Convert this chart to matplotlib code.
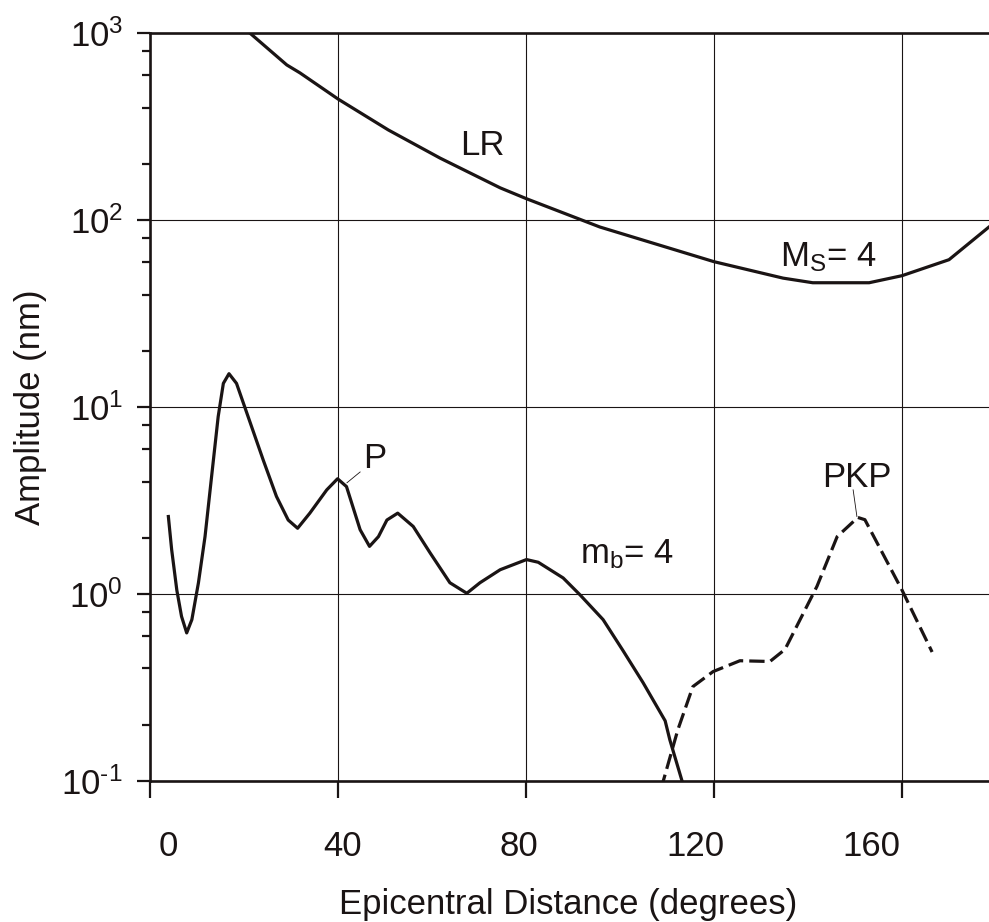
"""
Amplitude vs epicentral distance for an Ms = 4 / mb = 4 event:
LR surface wave, P and PKP body waves on a log amplitude scale.
"""

import matplotlib
matplotlib.use("Agg")
import matplotlib.pyplot as plt
import matplotlib.transforms as mtransforms
from matplotlib.ticker import FixedLocator, NullFormatter

# LR (surface wave), Ms = 4
lr_dist = [21.3, 29.1, 31.9, 40, 50.7, 61.7, 74.5, 80.2, 95.7, 120, 134.7, 141, 153, 160, 170, 178.5, 180]
lr_amp = [1000, 677, 614, 445, 304, 215, 149, 130, 92, 60, 49, 46.3, 46.3, 50.5, 61.5, 92, 98]

# P wave, mb = 4
p_dist = [3.9, 4.6, 5.7, 6.7, 7.8, 8.9, 10.3, 11.7, 13.1, 14.5, 15.6, 16.8, 18.4, 20.6, 24.1,
          26.9, 29.4, 31.4, 34.0, 37.6, 39.9, 41.8, 44.7, 46.7, 48.6, 50.4, 52.7, 56.0, 59.6,
          63.8, 67.4, 70.2, 74.5, 80.1, 82.6, 87.9, 91.5, 96.4, 100.6, 104.9, 109.6, 110.6,
          113.2, 113.8]
p_amp = [2.6, 1.73, 1.05, 0.76, 0.62, 0.73, 1.15, 2.03, 4.26, 8.9, 13.4, 15.1, 13.4, 9.3, 5.2,
         3.33, 2.49, 2.25, 2.71, 3.61, 4.14, 3.76, 2.21, 1.8, 2.03, 2.49, 2.71, 2.30, 1.66,
         1.15, 1.01, 1.15, 1.35, 1.53, 1.48, 1.22, 0.99, 0.73, 0.50, 0.336, 0.21, 0.166,
         0.1, 0.09]

# PKP (core phase)
pkp_dist = [108.8, 109.2, 112.3, 115.5, 119.8, 125.5, 131.9, 135.1, 141.9, 146.2, 150.6, 152.1, 160, 166.4]
pkp_amp = [0.09, 0.1, 0.188, 0.32, 0.385, 0.44, 0.436, 0.506, 1.1, 2.03, 2.57, 2.5, 1.05, 0.49]

x_ticks = [0, 40, 80, 120, 160]
x_tick_labels = ["0", "40", "80", "120", "160"]
y_ticks = [0.1, 1, 10, 100, 1000]
y_tick_labels = [r"$10^{\text{-}1}$", r"$10^{0}$", r"$10^{1}$", r"$10^{2}$", r"$10^{3}$"]
y_minor_mult = [2, 4, 6, 8]
# the printed tick numbers drift left of their ticks in the original (pixels)
x_label_shift_px = [18, 5, -7, -19, -31]

FS = 25
INK = "#1a1414"


def setup_fonts() -> None:
    plt.rcParams["font.family"] = ["Liberation Sans", "DejaVu Sans"]
    plt.rcParams["mathtext.fontset"] = "custom"
    plt.rcParams["mathtext.rm"] = "Liberation Sans"
    plt.rcParams["mathtext.it"] = "Liberation Sans:italic"
    plt.rcParams["mathtext.default"] = "rm"


def main() -> None:
    setup_fonts()
    fig = plt.figure(figsize=(9.89, 9.22), dpi=100)
    ax = fig.add_axes([0.1517, 0.1529, 0.8554, 0.8110])

    ax.plot(lr_dist, lr_amp, color=INK, lw=2.3, solid_joinstyle="round")
    ax.plot(p_dist, p_amp, color=INK, lw=2.3, solid_joinstyle="round")
    ax.plot(pkp_dist, pkp_amp, color=INK, lw=2.3, linestyle=(0, (4.8, 1.9)))

    ax.set_yscale("log")
    ax.set_xlim(0, 180)
    ax.set_ylim(0.1, 1000)

    ax.xaxis.set_major_locator(FixedLocator(x_ticks))
    ax.set_xticklabels(x_tick_labels)
    ax.yaxis.set_major_locator(FixedLocator(y_ticks))
    ax.set_yticklabels(y_tick_labels)
    minor = [m * t for t in y_ticks[:-1] for m in y_minor_mult]
    ax.yaxis.set_minor_locator(FixedLocator(minor))
    ax.yaxis.set_minor_formatter(NullFormatter())
    ax.xaxis.set_minor_locator(FixedLocator([]))

    ax.tick_params(axis="x", which="major", direction="out", length=12, width=1.6,
                   pad=23, labelsize=FS, colors=INK)
    ax.tick_params(axis="y", which="major", direction="out", length=9.5, width=1.6,
                   pad=10, labelsize=FS, colors=INK)
    ax.tick_params(axis="y", which="minor", direction="out", length=5.5, width=1.6, colors=INK)

    for lab, dx in zip(ax.get_xticklabels(), x_label_shift_px):
        lab.set_transform(lab.get_transform()
                          + mtransforms.ScaledTranslation(dx / 100, 0, fig.dpi_scale_trans))

    ax.grid(True, which="major", color=INK, lw=0.8)
    for side in ("left", "bottom", "top"):
        ax.spines[side].set_linewidth(1.9)
        ax.spines[side].set_color(INK)
    ax.spines["right"].set_visible(False)

    ax.set_xlabel("Epicentral Distance (degrees)", fontsize=FS, color=INK)
    ax.set_ylabel("Amplitude (nm)", fontsize=FS, color=INK)
    ax.xaxis.set_label_coords(0.494, -0.143)
    ax.yaxis.set_label_coords(-0.122, 0.5)

    # curve labels
    ax.text(66, 224, "LR", fontsize=FS, color=INK, ha="left", va="baseline")
    ax.text(134, 56.5, r"M$_\mathrm{S}$= 4", fontsize=FS, color=INK, ha="left", va="baseline")
    ax.text(91.5, 1.47, r"m$_\mathrm{b}$= 4", fontsize=FS, color=INK, ha="left", va="baseline")
    ax.text(45.3, 4.73, "P", fontsize=FS, color=INK, ha="left", va="baseline")
    ax.text(143, 3.76, "PKP", fontsize=FS, color=INK, ha="left", va="baseline")
    ax.plot([44.7, 41.9], [4.5, 3.94], color=INK, lw=0.6)
    ax.plot([149.6, 150.4], [3.61, 2.6], color=INK, lw=0.6)

    fig.savefig("out.png", dpi=100)
    plt.close(fig)


if __name__ == "__main__":
    main()
